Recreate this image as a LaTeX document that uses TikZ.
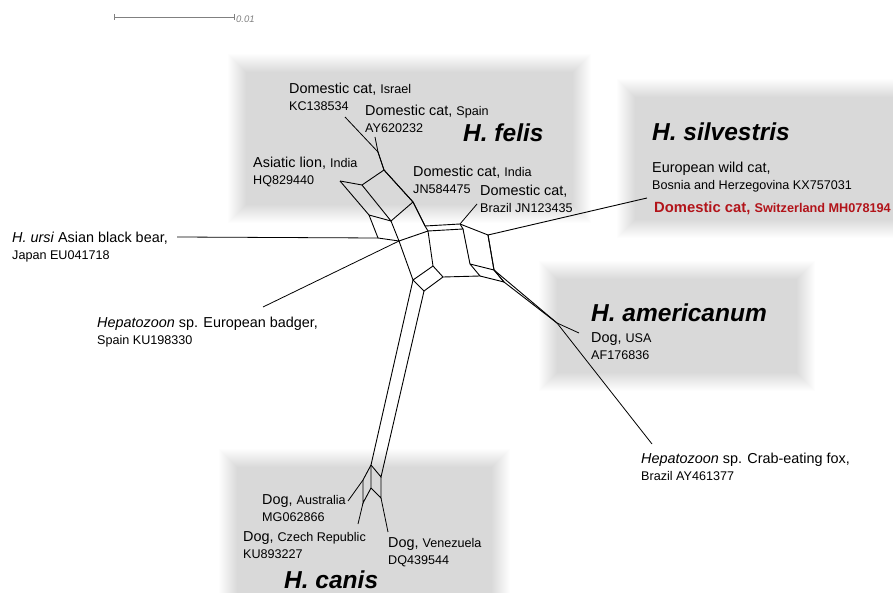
\documentclass[tikz,border=0pt]{standalone}
\usepackage{fontspec}
\setmainfont{Liberation Sans}
\usetikzlibrary{positioning}

\definecolor{redlab}{RGB}{178,20,26}
\definecolor{barcol}{RGB}{128,128,128}
\newcommand{\mainfnt}{\fontsize{14.4}{17}\selectfont}
\newcommand{\smallfnt}{\fontsize{12.6}{17}\selectfont}
\newcommand{\cladefnt}{\fontsize{24.5}{28}\selectfont\bfseries\itshape}
% grey box with soft edges: x1 y1 x2 y2
\newcommand{\softbox}[4]{%
  \foreach \k in {-9,...,9}
    \fill[black, opacity=0.0098] ({#1+(\k)},{#2+(\k)}) rectangle ({#3-(\k)},{#4-(\k)});
}

\tikzset{
  lab/.style={anchor=north west, inner sep=0pt, align=left, font=\mainfnt},
  clade/.style={anchor=base west, inner sep=0pt, font=\cladefnt},
  edge/.style={line width=0.9pt},
  leader/.style={line width=0.8pt},
}

\begin{document}
\begin{tikzpicture}[x=1pt,y=-1pt]
\useasboundingbox (0,0) rectangle (893,593);
\clip (0,0) rectangle (893,593);

% clade boxes
\softbox{237}{63}{582}{214}
\softbox{626}{88}{905}{229}
\softbox{548}{270}{806}{382}
\softbox{228}{458}{501}{610}

% scale bar
\coordinate (sbl) at (114,17);
\coordinate (sbr) at (234,17);
\draw[barcol, line width=0.7pt] (sbl) -- (sbr);
\draw[barcol, line width=0.7pt] ([yshift=3pt]sbl) -- ([yshift=-3pt]sbl);
\draw[barcol, line width=0.7pt] ([yshift=3pt]sbr) -- ([yshift=-3pt]sbr);
\node[anchor=base west, inner sep=0pt, text=barcol, font=\fontsize{9.5}{10}\selectfont\itshape] (sblab) at (236,23) {0.01};

% network vertices
\coordinate (f1) at (378,152);
\coordinate (f2) at (384,170);
\coordinate (f3) at (413,202);
\coordinate (c1) at (425,226);
\coordinate (c2) at (460,224);
\coordinate (c3) at (488,235);
\coordinate (l1) at (340,181);
\coordinate (l2) at (362,185);
\coordinate (l3) at (391,221);
\coordinate (l5) at (369,215);
\coordinate (u1) at (378,238);
\coordinate (u2) at (399,241);
\coordinate (c4) at (428,231);
\coordinate (c5) at (463,229);
\coordinate (s1) at (413,280);
\coordinate (s2) at (433,266);
\coordinate (s3) at (443,277);
\coordinate (s4) at (424,291);
\coordinate (c7) at (470,264);
\coordinate (c8) at (480,276);
\coordinate (c9) at (494,270);
\coordinate (c10) at (504,282);
\coordinate (a1) at (557,323);
\coordinate (k1) at (371,465);
\coordinate (k2) at (381,477);
\coordinate (k3) at (371,488);
\coordinate (k4) at (381,498);
\coordinate (k5) at (363,480);
\coordinate (k6) at (363,503);

% free ends of the leaders
\coordinate (israelend) at (345,117);
\coordinate (spainend) at (375,137);
\coordinate (brazilend) at (477,204);
\coordinate (ursiend) at (177,237);
\coordinate (badgerend) at (263,307);
\coordinate (silvend) at (647,198);
\coordinate (usaend) at (579,333);
\coordinate (foxend) at (652,444);
\coordinate (ausend) at (348,501);
\coordinate (czechend) at (358,524);
\coordinate (venend) at (388,532);

% felis part
\draw[edge] (f1) -- (f2) -- (f3) -- (c1);
\draw[edge, shift={(2.5,-1.6)}] (f1) -- (f2) -- (f3) -- (c1);
\draw[edge] (l1) -- (l2) -- (f2);
\draw[edge] (l2) -- (l3) -- (f3);
\draw[edge] (l1) -- (l5) -- (l3);
\draw[edge] (l5) -- (u1) -- (u2) -- (l3);
% centre
\draw[edge] (c1) -- (c2) -- (c3);
\draw[edge] (c1) -- (c4) -- (c5) -- (c2);
\draw[edge] (u2) -- (c4) -- (s2) -- (s1) -- (u2);
\draw[edge] (c5) -- (c7) -- (c8) -- (s3) -- (s2);
\draw[edge] (s3) -- (s4) -- (s1);
\draw[edge] (c3) -- (c9) -- (c10);
\draw[edge, shift={(3,-1)}] (c3) -- (c9) -- (c10);
\draw[edge] (c7) -- (c9);
\draw[edge] (c8) -- (c10);
\draw[edge] (c9) -- (a1);
\draw[edge] (c10) -- (a1);
% canis band
\draw[edge] (s1) -- (k1) -- (k2) -- (s4);
\draw[edge] (k1) -- (k3) -- (k4) -- (k2);
\draw[edge] (k1) -- (k5) -- (k6) -- (k3);

% leaders
\draw[leader] (f1) -- (israelend);
\draw[leader] (f1) -- (spainend);
\draw[leader] (c2) -- (brazilend);
\draw[leader] (u1) -- (ursiend);
\draw[leader] (u2) -- (badgerend);
\draw[edge] (c3) -- (silvend);
\draw[leader] (a1) -- (usaend);
\draw[leader] (a1) -- (foxend);
\draw[leader] (k5) -- (ausend);
\draw[leader] (k6) -- (czechend);
\draw[leader] (k4) -- (venend);

% clade names
\node[clade] (felis) at (463,142) {H. felis};
\node[clade] (silvestris) at (652,141) {H. silvestris};
\node[clade] (americanum) at (591,321) {H. americanum};
\node[clade] (canis) at (284,588) {H. canis};

% isolates
\node[lab] (israel) at (289,82.7) {Domestic cat, {\smallfnt Israel}\\{\smallfnt KC138534}};
\node[lab] (spain) at (365,104.7) {Domestic cat, {\smallfnt Spain}\\{\smallfnt AY620232}};
\node[lab] (lion) at (253,156.7) {Asiatic lion, {\smallfnt India}\\{\smallfnt HQ829440}};
\node[lab] (india) at (413,165.7) {Domestic cat, {\smallfnt India}\\{\smallfnt JN584475}};
\node[lab] (brazil) at (480,184.7) {Domestic cat,\\{\smallfnt Brazil JN123435}};
\node[lab] (wildcat) at (652,161.7) {European wild cat,\\{\smallfnt Bosnia and Herzegovina KX757031}};
\node[anchor=base west, inner sep=0pt, text=redlab, font=\fontsize{14.8}{17}\selectfont\bfseries] (swiss) at (654,213) {Domestic cat, {\fontsize{12.7}{17}\selectfont Switzerland MH078194}};
\node[lab] (ursi) at (12,231.7) {\textit{H. ursi} Asian black bear,\\{\smallfnt Japan EU041718}};
\node[lab] (badger) at (97,316.7) {\textit{Hepatozoon} sp. European badger,\\{\smallfnt Spain KU198330}};
\node[lab] (usa) at (591,332.7) {Dog, {\smallfnt USA}\\{\smallfnt AF176836}};
\node[lab] (fox) at (641,452.7) {\textit{Hepatozoon} sp. Crab-eating fox,\\{\smallfnt Brazil AY461377}};
\node[lab] (australia) at (262,494.7) {Dog, {\smallfnt Australia}\\{\smallfnt MG062866}};
\node[lab] (czech) at (243,531.7) {Dog, {\smallfnt Czech Republic}\\{\smallfnt KU893227}};
\node[lab] (venezuela) at (388,537.7) {Dog, {\smallfnt Venezuela}\\{\smallfnt DQ439544}};
\end{tikzpicture}
\end{document}
